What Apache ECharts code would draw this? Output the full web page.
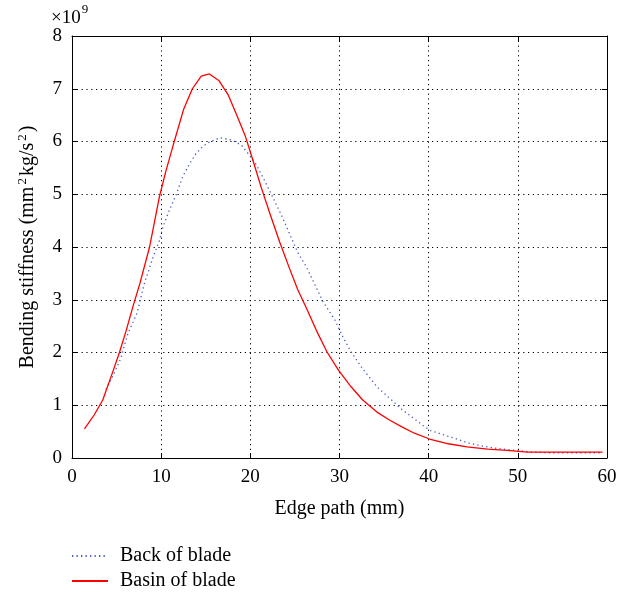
<!DOCTYPE html>
<html>
<head>
<meta charset="utf-8">
<script src="https://cdn.jsdelivr.net/npm/echarts@6/dist/echarts.min.js"></script>
<style>html,body{margin:0;padding:0;background:#fff}#c{width:633px;height:592px}</style>
</head>
<body>
<div id="c"></div>
<script>
// Edge path (mm), bending stiffness (x1e9 mm^2 kg/s^2)
const basinX = [1.4,2.5,3.45,4.5,5.3,6.1,6.8,7.6,8.7,9.8,10.5,11.5,12.5,13.5,14.5,15.4,16.5,17.5,18.4,19.4,20.3,21.2,22.2,23.3,24.4,25.3,26.4,27.4,28.6,29.9,31.3,32.6,34.2,35.6,37.1,38.4,40.1,42.2,44.3,46.6,48.8,51.1,59.5];
const basinY = [0.55,0.82,1.1,1.6,1.99,2.43,2.85,3.3,4.0,4.95,5.42,6.02,6.6,7.0,7.24,7.28,7.15,6.89,6.53,6.12,5.64,5.14,4.63,4.09,3.59,3.2,2.8,2.42,2.01,1.66,1.35,1.1,0.87,0.72,0.58,0.47,0.36,0.27,0.21,0.17,0.145,0.11,0.11];
const backX = [3.8,4.2,4.9,5.5,5.9,6.3,7.3,8.1,9.1,9.8,10.2,10.9,11.7,12.4,13.2,13.9,14.7,15.4,16.6,17.9,19.0,19.9,20.7,21.6,22.5,23.5,24.4,25.3,26.3,27.2,28.1,29.5,30.4,31.3,32.6,34.2,35.9,37.0,38.1,39.4,40.2,41.3,42.8,44.3,45.8,47.3,49.6,51.6,53.1,59.5];
const backY = [1.3,1.42,1.67,1.9,2.15,2.37,2.75,3.3,3.81,4.12,4.38,4.69,5.0,5.33,5.58,5.77,5.91,5.99,6.07,6.03,5.93,5.74,5.55,5.26,4.95,4.6,4.25,3.9,3.62,3.3,2.98,2.61,2.29,2.01,1.69,1.35,1.09,0.92,0.78,0.61,0.52,0.46,0.38,0.29,0.235,0.19,0.146,0.115,0.1,0.1];
const xTicks = [0,10,20,30,40,50,60];
const yTicks = [0,1,2,3,4,5,6,7,8];
const seriesNames = ['Back of blade','Basin of blade'];

const FONT = '"Liberation Serif","DejaVu Serif",serif';
const pairs = (xs, ys) => xs.map((x, i) => [x, ys[i]]);

const chart = echarts.init(document.getElementById('c'), null, {renderer: 'canvas'});
const gridLine = {show: true, lineStyle: {color: '#000', type: [1.2, 3.6], width: 1}};
const tick = {show: true, inside: true, length: 5, lineStyle: {color: '#000'}};
const axLine = {show: true, onZero: false, lineStyle: {color: '#000', width: 1}};
chart.setOption({
  animation: false,
  backgroundColor: '#fff',
  textStyle: {fontFamily: FONT},
  grid: {left: 72, right: 26, top: 36, bottom: 134, containLabel: false},
  xAxis: [{
    type: 'value', min: xTicks[0], max: xTicks[xTicks.length - 1], interval: 10,
    name: 'Edge path (mm)', nameLocation: 'middle', nameGap: 41,
    nameTextStyle: {fontFamily: FONT, fontSize: 20, color: '#000'},
    axisLine: axLine, axisTick: tick, splitLine: gridLine,
    axisLabel: {fontFamily: FONT, fontSize: 19, color: '#000', margin: 10}
  }, {
    type: 'value', position: 'top', min: xTicks[0], max: xTicks[xTicks.length - 1], interval: 10,
    axisLine: axLine, axisTick: tick, splitLine: {show: false}, axisLabel: {show: false}
  }],
  yAxis: [{
    type: 'value', min: yTicks[0], max: yTicks[yTicks.length - 1], interval: 1,
    name: '{a|Bending stiffness (mm}{s|2}{a|kg/s}{s|2}{a|)}', nameLocation: 'middle', nameGap: 33,
    nameTextStyle: {
      fontFamily: FONT, fontSize: 20, color: '#000',
      rich: {
        a: {fontFamily: FONT, fontSize: 20, color: '#000'},
        s: {fontFamily: FONT, fontSize: 13, color: '#000', padding: [0, 2, 10, 2]}
      }
    },
    axisLine: axLine, axisTick: tick, splitLine: gridLine,
    axisLabel: {fontFamily: FONT, fontSize: 19, color: '#000', margin: 10}
  }, {
    type: 'value', position: 'right', min: yTicks[0], max: yTicks[yTicks.length - 1], interval: 1,
    axisLine: axLine, axisTick: tick, splitLine: {show: false}, axisLabel: {show: false}
  }],
  legend: {
    orient: 'vertical', left: 71, top: 546, padding: 0, itemWidth: 36, itemHeight: 14, itemGap: 5,
    textStyle: {fontFamily: FONT, fontSize: 20, color: '#000', padding: [0, 0, 0, 7]},
    itemStyle: {opacity: 0},
    data: seriesNames
  },
  graphic: [{
    type: 'text', left: 51, top: 3,
    style: {
      text: '{a|×10}{b|9}',
      rich: {
        a: {fontFamily: FONT, fontSize: 19, fill: '#000', padding: [9, 0, 0, 0]},
        b: {fontFamily: FONT, fontSize: 13, fill: '#000', padding: [0, 0, 9, 1]}
      }
    }
  }],
  series: [{
    name: seriesNames[0], type: 'line', xAxisIndex: 0, yAxisIndex: 0,
    data: pairs(backX, backY), showSymbol: false, symbol: 'none',
    lineStyle: {color: '#4a5cc4', width: 1.3, type: [1.3, 3.2]},
    itemStyle: {color: '#4a5cc4'}
  }, {
    name: seriesNames[1], type: 'line', xAxisIndex: 0, yAxisIndex: 0,
    data: pairs(basinX, basinY), showSymbol: false, symbol: 'none',
    lineStyle: {color: '#ff0000', width: 1.3},
    itemStyle: {color: '#ff0000'}
  }]
});
</script>
</body>
</html>
